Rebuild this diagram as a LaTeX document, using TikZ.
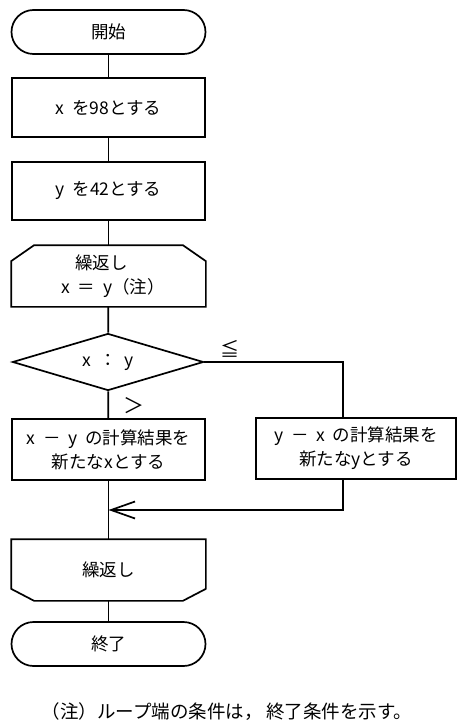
\documentclass[tikz,border=0pt]{standalone}
\usepackage{fontspec}
\setmainfont{Noto Sans CJK JP}
\usetikzlibrary{shapes.geometric,arrows.meta,calc}
\newcommand{\gap}{\hspace{0.45em}}
\begin{document}
\begin{tikzpicture}[x=1pt,y=-1pt,line width=1.7pt,
  every node/.style={font=\fontsize{17.5}{24}\selectfont},
  term/.style={draw,rounded corners=22pt,minimum width=194pt,minimum height=44pt,inner sep=0pt},
  procbox/.style={draw,minimum width=193pt,minimum height=59pt,inner sep=0pt,align=center},
  loopbox/.style={minimum width=193pt,minimum height=60pt,inner sep=0pt,align=center},
  decbox/.style={draw,diamond,aspect=3.35,minimum width=191pt,minimum height=57pt,inner sep=0pt},
  lbl/.style={inner sep=0pt}
]
\fill[white] (0,0) rectangle (459,727);
\useasboundingbox (0,0) rectangle (459,727);

\node[term] (start) at (108.5,32) {開始};
\node[procbox] (b1) at (108.5,107.5) {x\gap を98とする};
\node[procbox,minimum height=58pt] (b2) at (108.5,191) {y\gap を42とする};
\node[loopbox] (lpA) at (108.5,276) {繰返し\hspace*{14pt}\\\hspace*{9pt}x\gap ＝\gap y（注）};
\draw (lpA.south west) -- ($(lpA.north west)+(0,16)$) -- ($(lpA.north west)+(23,0)$)
  -- ($(lpA.north east)+(-23,0)$) -- ($(lpA.north east)+(0,16)$) -- (lpA.south east) -- cycle;
\node[decbox] (dec) at (108,362) {x\gap ：\gap y};
\node[procbox,minimum height=61pt] (bL) at (108.5,449.5) {x\gap －\gap y\gap の計算結果を\\新たなxとする};
\node[procbox,minimum width=200pt,minimum height=61pt] (bR) at (356,448.5) {y\gap －\gap x\gap の計算結果を\\新たなyとする};
\node[loopbox] (lpB) at (108.5,570) {繰返し};
\draw (lpB.north west) -- ($(lpB.south west)+(0,-12)$) -- ($(lpB.south west)+(23,0)$)
  -- ($(lpB.south east)+(-23,0)$) -- ($(lpB.south east)+(0,-12)$) -- (lpB.north east) -- cycle;
\node[term] (stop) at (108.5,644) {終了};

\node[lbl,font=\fontsize{19}{24}\selectfont] (le) at (230,349) {≦};
\node[lbl,font=\fontsize{21}{24}\selectfont] (gt) at (134,406) {＞};
\node[lbl,font=\fontsize{18.5}{20}\selectfont] (note) at (227,712) {（注）ループ端の条件は，\hspace{0.2em}終了条件を示す。};

\coordinate (join) at (108.5,510);
\draw (start) -- (b1);
\draw (b1) -- (b2);
\draw (b2) -- (lpA);
\draw (lpA) -- (dec);
\draw (dec) -- (bL);
\draw (dec.east) -| ($(bR.north)+(-13,0)$);
\draw (bL) -- (lpB);
\draw[-{Straight Barb[length=24pt,width=17pt]}] ($(bR.south)+(-13,0)$) |- (join);
\draw (lpB) -- (stop);
\end{tikzpicture}
\end{document}
